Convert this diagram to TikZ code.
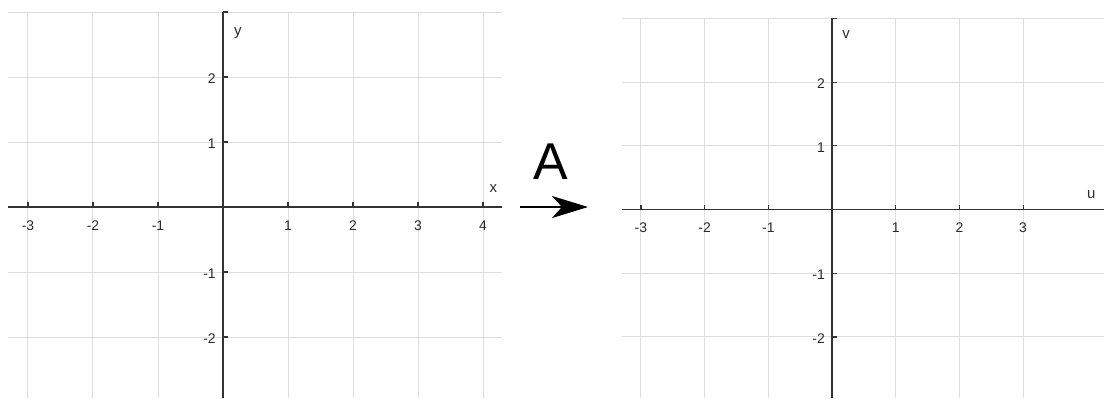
\documentclass[tikz,border=0pt]{standalone}
\usepackage{fontspec}
\setmainfont{Liberation Sans}
\usetikzlibrary{arrows.meta,positioning}
\definecolor{gridgray}{HTML}{DEDEDE}
\definecolor{axisgray}{HTML}{333333}
\definecolor{labelgray}{HTML}{2A2A2A}
\tikzset{
  gridline/.style={gridgray, line width=1bp},
  axisline/.style={axisgray, line width=1.4bp},
  tickmark/.style={axisgray, line width=1.2bp},
  ticklabel/.style={font=\fontsize{14}{16}\selectfont, text=labelgray, inner sep=0pt},
  axislabel/.style={font=\fontsize{15}{17}\selectfont, text=labelgray, inner sep=0pt},
}
\begin{document}
\begin{tikzpicture}[x=1bp, y=1bp, >=Stealth]
  \useasboundingbox (0,0) rectangle (1104,-398);
  % left plane: x, y
  \begin{scope}[shift={(223,-207)}, x=65bp, y=65bp]
    \foreach \i in {-3,...,4} \draw[gridline] (\i,-2.94) -- (\i,3);
    \foreach \j in {-2,...,3} \draw[gridline] (-3.31,\j) -- (4.29,\j);
    \draw[axisline] (-3.31,0) -- (4.29,0);
    \draw[axisline] (0,-2.94) -- (0,3);
    \foreach \i [count=\k] in {-3,-2,-1,1,2,3,4} {
      \draw[tickmark] (\i,0) -- (\i,0.077);
      \node[ticklabel] (xl\k) at (\i,-0.28) {\i};
    }
    \foreach \j [count=\k] in {-2,-1,1,2,3} \draw[tickmark] (0,\j) -- (0.077,\j);
    \foreach \j [count=\k] in {-2,-1,1,2}
      \node[ticklabel, anchor=east] (yl\k) at (-0.11,\j-0.03) {\j};
    \node[axislabel] (xname) at (4.16,0.29) {x};
    \node[axislabel] (yname) at (0.23,2.67) {y};
  \end{scope}
  % the map A
  \coordinate (mapfrom) at (520,-207);
  \coordinate[right=68bp of mapfrom] (mapto);
  \draw[-{Stealth[length=36bp, width=22bp, inset=10bp]}, line width=2.4bp] (mapfrom) -- (mapto);
  \node[inner sep=0pt, font=\fontsize{52}{60}\selectfont] (mapname) at (551,-161.5) {A};
  % right plane: u, v
  \begin{scope}[shift={(832,-209.5)}, x=63.7bp, y=63.7bp]
    \foreach \i in {-3,...,3} \draw[gridline] (\i,-2.96) -- (\i,3);
    \foreach \j in {-2,...,3} \draw[gridline] (-3.30,\j) -- (4.27,\j);
    \draw[axisline] (-3.30,0) -- (4.27,0);
    \draw[axisline] (0,-2.96) -- (0,3);
    \foreach \i [count=\k] in {-3,-2,-1,1,2,3} {
      \draw[tickmark] (\i,0) -- (\i,0.077);
      \node[ticklabel] (ul\k) at (\i,-0.28) {\i};
    }
    \foreach \j [count=\k] in {-2,-1,1,2,3} \draw[tickmark] (0,\j) -- (0.077,\j);
    \foreach \j [count=\k] in {-2,-1,1,2}
      \node[ticklabel, anchor=east] (vl\k) at (-0.11,\j-0.03) {\j};
    \node[axislabel] (uname) at (4.07,0.23) {u};
    \node[axislabel] (vname) at (0.22,2.74) {v};
  \end{scope}
\end{tikzpicture}
\end{document}
